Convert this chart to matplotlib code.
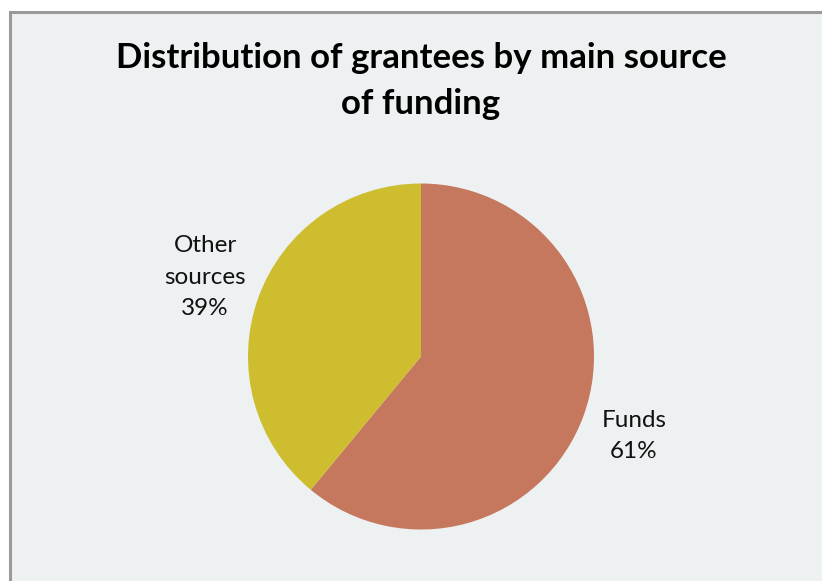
import matplotlib
matplotlib.use("Agg")
import matplotlib.pyplot as plt
from matplotlib.patches import Rectangle

title = "Distribution of grantees by main source\nof funding"
categories = ["Funds", "Other sources"]
shares = [61, 39]
label_text = ["Funds\n61%", "Other\nsources\n39%"]
colors = ["#C5785E", "#CEBD2E"]

W, H = 822, 581
fig = plt.figure(figsize=(W / 100, H / 100), dpi=100)
fig.patch.set_facecolor("white")

# chart area frame on a background axes
bg = fig.add_axes([0, 0, 1, 1], zorder=0)
bg.set_xlim(0, W)
bg.set_ylim(H, 0)
bg.axis("off")
bg.add_patch(Rectangle((9.5, 11.5), W, H, facecolor="#EDF1F2",
                       edgecolor="#9A9A9A", linewidth=2.2))

fig.text(421 / W, 1 - 81 / H, title, ha="center", va="center",
         fontsize=25, fontweight="bold", family=["Lato", "DejaVu Sans"],
         linespacing=1.5, zorder=3)

cx, cy, r = 421, 356.5, 173
ax = fig.add_axes([(cx - r) / W, 1 - (cy + r) / H, 2 * r / W, 2 * r / H], zorder=2)
ax.set_facecolor("none")
wedges, _ = ax.pie(shares, colors=colors, startangle=90, counterclock=False,
                   radius=1.0, wedgeprops=dict(linewidth=0))
ax.set_xlim(-1, 1)
ax.set_ylim(-1, 1)
ax.set_aspect("equal")
ax.axis("off")

# outside labels
label_pos = [(634, 436), (205, 277)]
for txt, (x, y) in zip(label_text, label_pos):
    fig.text(x / W, 1 - y / H, txt, ha="center", va="center", fontsize=17.5,
             family=["Lato", "DejaVu Sans"], linespacing=1.6, color="#111111",
             zorder=3)

fig.savefig("out.png", dpi=100)
